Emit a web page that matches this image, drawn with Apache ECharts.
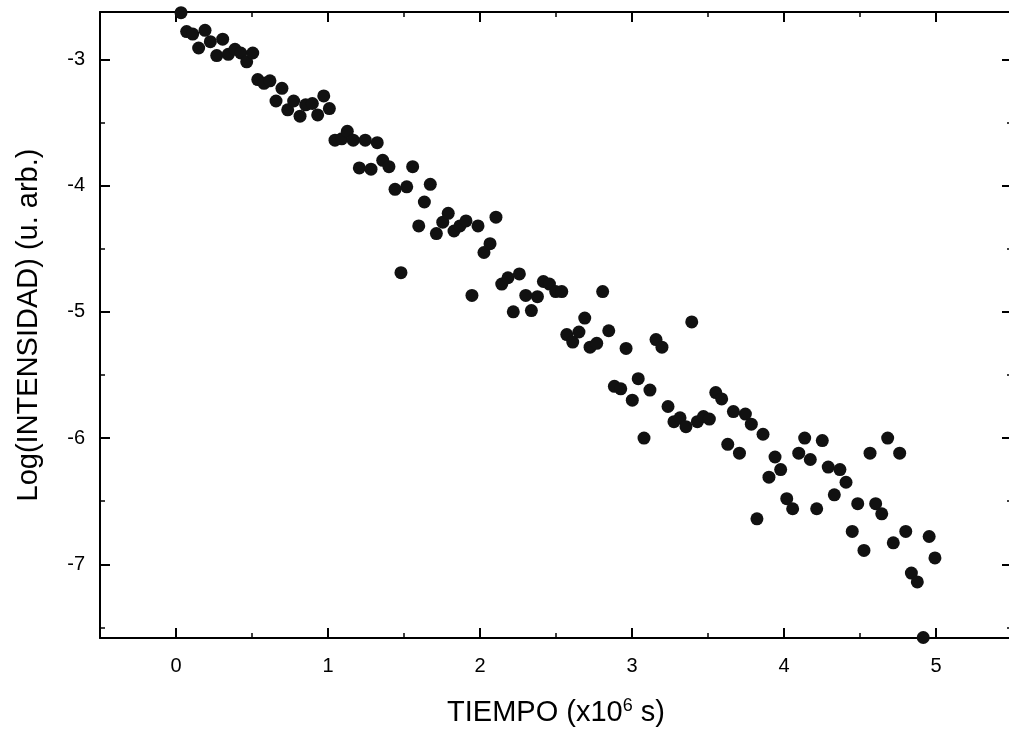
<!DOCTYPE html>
<html>
<head>
<meta charset="utf-8">
<script src="https://cdn.jsdelivr.net/npm/echarts@6/dist/echarts.min.js"></script>
<style>
  html, body { margin: 0; padding: 0; background: #fff; }
  #chart { width: 1009px; height: 731px; }
</style>
</head>
<body>
<div id="chart"></div>
<script>
// tiempo (x10^6 s)
var tiempo = [
  0.033, 0.070, 0.110, 0.149, 0.191, 0.226, 0.268, 0.307, 0.344, 0.388,
  0.426, 0.465, 0.505, 0.538, 0.579, 0.618, 0.658, 0.697, 0.735, 0.774,
  0.816, 0.853, 0.897, 0.932, 0.972, 1.009, 1.046, 1.090, 1.127, 1.166,
  1.206, 1.245, 1.283, 1.324, 1.360, 1.401, 1.441, 1.480, 1.518, 1.557,
  1.597, 1.634, 1.673, 1.713, 1.755, 1.791, 1.829, 1.868, 1.908, 1.947,
  1.987, 2.026, 2.066, 2.105, 2.143, 2.184, 2.219, 2.259, 2.301, 2.338,
  2.378, 2.417, 2.457, 2.498, 2.538, 2.571, 2.610, 2.651, 2.689, 2.724,
  2.768, 2.807, 2.847, 2.884, 2.926, 2.961, 3.002, 3.041, 3.079, 3.118,
  3.158, 3.197, 3.237, 3.276, 3.316, 3.355, 3.393, 3.430, 3.470, 3.509,
  3.551, 3.590, 3.630, 3.667, 3.707, 3.746, 3.785, 3.822, 3.862, 3.901,
  3.941, 3.978, 4.018, 4.057, 4.097, 4.136, 4.173, 4.215, 4.252, 4.291,
  4.331, 4.368, 4.408, 4.449, 4.485, 4.526, 4.566, 4.603, 4.643, 4.682,
  4.719, 4.761, 4.801, 4.838, 4.877, 4.916, 4.955, 4.993
];
// Log(INTENSIDAD)
var logInt = [
  -2.63, -2.78, -2.80, -2.91, -2.77, -2.86, -2.97, -2.84, -2.96, -2.92,
  -2.95, -3.02, -2.95, -3.16, -3.19, -3.17, -3.33, -3.23, -3.40, -3.33,
  -3.45, -3.36, -3.35, -3.44, -3.29, -3.39, -3.64, -3.63, -3.57, -3.64,
  -3.86, -3.64, -3.87, -3.66, -3.80, -3.85, -4.03, -4.69, -4.01, -3.85,
  -4.32, -4.13, -3.99, -4.38, -4.29, -4.22, -4.36, -4.32, -4.28, -4.87,
  -4.32, -4.53, -4.46, -4.25, -4.78, -4.73, -5.00, -4.70, -4.87, -4.99,
  -4.88, -4.76, -4.78, -4.84, -4.84, -5.18, -5.24, -5.16, -5.05, -5.28,
  -5.25, -4.84, -5.15, -5.59, -5.61, -5.29, -5.70, -5.53, -6.00, -5.62,
  -5.22, -5.28, -5.75, -5.87, -5.84, -5.91, -5.08, -5.87, -5.83, -5.85,
  -5.64, -5.69, -6.05, -5.79, -6.12, -5.81, -5.89, -6.64, -5.97, -6.31,
  -6.15, -6.25, -6.48, -6.56, -6.12, -6.00, -6.17, -6.56, -6.02, -6.23,
  -6.45, -6.25, -6.35, -6.74, -6.52, -6.89, -6.12, -6.52, -6.60, -6.00,
  -6.83, -6.12, -6.74, -7.07, -7.14, -7.58, -6.78, -6.95
];

var xMajor = [0, 1, 2, 3, 4, 5];
var xMinor = [0.5, 1.5, 2.5, 3.5, 4.5];
var yMajor = [-7, -6, -5, -4, -3];
var yMinor = [-7.5, -6.5, -5.5, -4.5, -3.5];

var points = tiempo.map(function (t, i) { return [t, logInt[i]]; });

var font = '"Liberation Sans", Arial, sans-serif';
var xMin = -0.5, xMax = 5.5, yMin = -7.584, yMax = -2.625;

function xAx(pos, ticks, len, w, labels, line) {
  return {
    type: 'value', position: pos, min: xMin, max: xMax,
    splitLine: { show: false },
    axisLine: { show: line, onZero: false, lineStyle: { color: '#000', width: 2 } },
    axisTick: { show: true, inside: true, length: len, customValues: ticks,
                lineStyle: { color: '#000', width: w } },
    axisLabel: { show: labels, customValues: ticks, margin: 18,
                 color: '#000', fontSize: 20, fontFamily: font }
  };
}
function yAx(pos, ticks, len, w, labels, line) {
  return {
    type: 'value', position: pos, min: yMin, max: yMax,
    splitLine: { show: false },
    axisLine: { show: line, onZero: false, lineStyle: { color: '#000', width: 2 } },
    axisTick: { show: true, inside: true, length: len, customValues: ticks,
                lineStyle: { color: '#000', width: w } },
    axisLabel: { show: labels, customValues: ticks, margin: 15,
                 color: '#000', fontSize: 20, fontFamily: font }
  };
}

var chart = echarts.init(document.getElementById('chart'));

var xBottom = xAx('bottom', xMajor, 10, 2, true, true);
xBottom.name = 'TIEMPO (x10{sup|6} s)';
xBottom.nameLocation = 'middle';
xBottom.nameGap = 59;
xBottom.nameTextStyle = {
  color: '#000', fontSize: 29, fontFamily: font,
  rich: { sup: { fontSize: 18, fontFamily: font, color: '#000', verticalAlign: 'top', padding: [0, 0, 14, 0] } }
};

var yLeft = yAx('left', yMajor, 10, 2, true, true);
yLeft.name = 'Log(INTENSIDAD) (u. arb.)';
yLeft.nameLocation = 'middle';
yLeft.nameGap = 57;
yLeft.nameTextStyle = { color: '#000', fontSize: 29, fontFamily: font };

var option = {
  backgroundColor: '#fff',
  animation: false,
  grid: { left: 100, width: 912, top: 12, height: 626, outerBoundsMode: 'none', containLabel: false },
  xAxis: [
    xBottom,
    xAx('bottom', xMinor, 5, 1.5, false, false),
    xAx('top', xMajor, 10, 2, false, true),
    xAx('top', xMinor, 5, 1.5, false, false)
  ],
  yAxis: [
    yLeft,
    yAx('left', yMinor, 5, 1.5, false, false),
    yAx('right', yMajor, 10, 2, false, true),
    yAx('right', yMinor, 5, 1.5, false, false)
  ],
  series: [{
    type: 'scatter',
    xAxisIndex: 0,
    yAxisIndex: 0,
    symbol: 'circle',
    symbolSize: 13,
    itemStyle: { color: '#111', opacity: 1 },
    data: points
  }]
};

chart.setOption(option);
</script>
</body>
</html>
